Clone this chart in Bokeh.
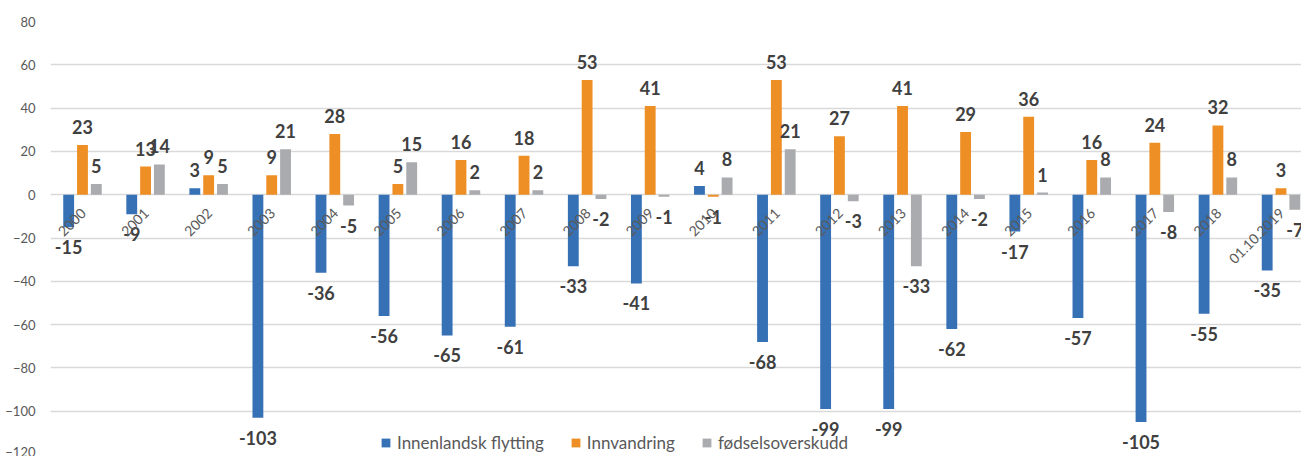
import numpy as np
from bokeh.plotting import figure
from bokeh.models import ColumnDataSource, Range1d, FixedTicker, Legend, LegendItem
from bokeh.core.properties import value
from bokeh.embed import file_html
from bokeh.resources import INLINE

categories = ["2000", "2001", "2002", "2003", "2004", "2005", "2006", "2007", "2008", "2009",
              "2010", "2011", "2012", "2013", "2014", "2015", "2016", "2017", "2018", "01.10.2019"]
innenlandsk = [-15, -9, 3, -103, -36, -56, -65, -61, -33, -41, 4, -68, -99, -99, -62, -17, -57, -105, -55, -35]
innvandring = [23, 13, 9, 9, 28, 5, 16, 18, 53, 41, -1, 53, 27, 41, 29, 36, 16, 24, 32, 3]
fodsel = [5, 14, 5, 21, -5, 15, 2, 2, -2, -1, 8, 21, -3, -33, -2, 1, 8, -8, 8, -7]
series_names = ["Innenlandsk flytting", "Innvandring", "fødselsoverskudd"]
y_ticks = [-120, -100, -80, -60, -40, -20, 0, 20, 40, 60, 80]

colors = ["#3671b6", "#ee8f26", "#a9abae"]
FONT = "Lato"

p = figure(width=1301, height=456, output_backend="svg", toolbar_location=None,
           x_range=Range1d(-0.507, 19.325), y_range=Range1d(-120, 80),
           x_axis_location=None, min_border_left=50, min_border_right=0,
           min_border_top=21, min_border_bottom=2)
p.outline_line_color = None
p.background_fill_color = "white"
p.xgrid.visible = False
p.ygrid.ticker = FixedTicker(ticks=y_ticks)
p.ygrid.grid_line_color = "#d9d9d9"
p.ygrid.grid_line_width = 1.3

ax = p.yaxis[0]
ax.ticker = FixedTicker(ticks=y_ticks)
ax.axis_line_color = None
ax.major_tick_line_color = None
ax.minor_tick_line_color = None
ax.major_tick_out = 0
ax.major_label_standoff = 15
ax.major_label_text_font = FONT
ax.major_label_text_font_size = "13px"
ax.major_label_text_color = "#595959"

idx = np.arange(len(categories))
offsets = [-0.219, 0.0, 0.219]
all_vals = [innenlandsk, innvandring, fodsel]
items = []
for vals, off, col, name in zip(all_vals, offsets, colors, series_names):
    vals = np.array(vals)
    src = ColumnDataSource(dict(
        x=idx + off, top=vals,
        label=[str(v) for v in vals],
        yoff=np.where(vals >= 0, -18, 20),
    ))
    r = p.vbar(x="x", top="top", bottom=0, width=0.172, source=src,
               fill_color=col, line_color=None)
    items.append(LegendItem(label=name, renderers=[r]))
    p.text(x="x", y="top", text="label", y_offset="yoff", source=src,
           text_align="center", text_baseline="middle",
           text_font=value(FONT), text_font_style="bold",
           text_font_size="18px", text_color="#404040")

# category labels along the zero line
csrc = ColumnDataSource(dict(x=idx.astype(float), y=np.zeros(len(categories)), label=categories))
p.text(x="x", y="y", text="label", source=csrc, angle=np.pi / 4,
       x_offset=1, y_offset=16, text_align="right", text_baseline="middle",
       text_font=value(FONT), text_font_size="14px", text_color="#595959")

legend = Legend(items=items, orientation="horizontal", location=(330, 1),
                glyph_width=11, glyph_height=11, label_standoff=6, spacing=26,
                label_text_font=FONT, label_text_font_size="17px",
                label_text_color="#595959", padding=0, margin=0,
                background_fill_alpha=0, border_line_color=None)
p.add_layout(legend, "center")

open("out.html", "w").write(file_html(p, INLINE))
